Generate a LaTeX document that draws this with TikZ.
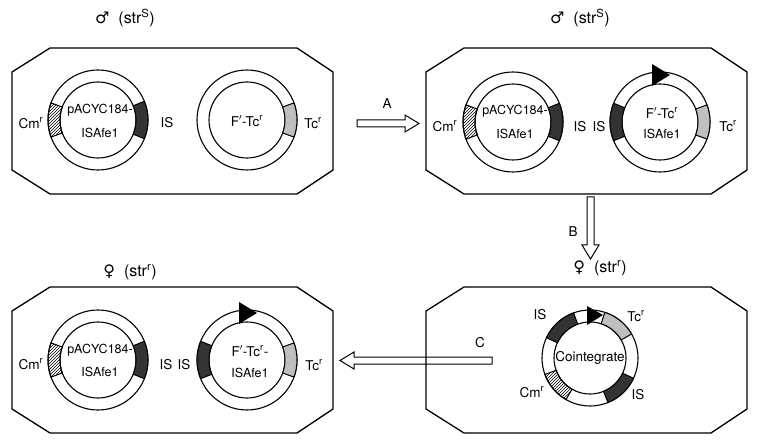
\documentclass[tikz,border=0pt]{standalone}
\usepackage{fontspec}
\setmainfont{TeX Gyre Heros}
\newfontfamily\symf{DejaVu Sans}
\usetikzlibrary{patterns,calc}
\newcommand\ringseg[6]{%
  \path[draw,line width=1pt,#6] (#1,#2) ++(#3:50) arc[start angle=#3,end angle=#4,radius=50]
    -- ($(#1,#2)+(#4:38)$) arc[start angle=#4,end angle=#3,radius=38] -- cycle;}
\newcommand\cell[2]{%
  \draw[line width=1.3pt] (#1+38,#2) -- (#1+285,#2) -- (#1+321,#2+24) -- (#1+321,#2+122) -- (#1+285,#2+146) -- (#1+38,#2+146) -- (#1,#2+122) -- (#1,#2+24) -- cycle;}
\newcommand\ring[2]{\draw[line width=1.1pt] (#1,#2) circle[radius=50] (#1,#2) circle[radius=38];}
\newcommand\tri[2]{\fill (#1-8,#2-58) -- (#1-8,#2-36) -- (#1+10,#2-47) -- cycle;}
\begin{document}
\begin{tikzpicture}[x=1pt,y=-1pt,font=\fontsize{13.5}{15}\selectfont,
  lab/.style={inner sep=0pt},
  pl/.style={inner sep=0pt,font=\fontsize{12.5}{14}\selectfont},
  hd/.style={inner sep=0pt,font=\fontsize{16}{18}\selectfont},
  hatch/.style={pattern=north east lines},
  dk/.style={fill=black!80},
  lt/.style={fill=black!25}]
\useasboundingbox (0,0) rectangle (759,443);
\cell{12}{48}\cell{426}{48}\cell{12}{287}\cell{426}{287}
% top-left
\ring{98}{120}\ring{247}{120}
\ringseg{98}{120}{160}{200}{50}{hatch}
\ringseg{98}{120}{-22}{22}{50}{dk}
\ringseg{247}{120}{-20}{20}{50}{lt}
\node[pl] (p1) at (100,110) {pACYC184-};
\node[pl] (p1b) at (100,133) {ISAfe1};
\node[lab] (cm1) at (31,123) {Cm$^{\mathrm r}$};
\node[lab] (is1) at (167,123) {IS};
\node[lab] (f1) at (247,121) {F$'$-Tc$^{\mathrm r}$};
\node[lab] (tc1) at (313,123) {Tc$^{\mathrm r}$};
\node[hd] (h1) at (125,18) {{\symf ♂}\ \ (str$^{\mathrm S}$)};
% top-right
\ring{513}{122}\ring{660}{122}
\ringseg{513}{122}{160}{200}{50}{hatch}
\ringseg{513}{122}{-22}{22}{50}{dk}
\ringseg{660}{122}{158}{202}{50}{dk}
\ringseg{660}{122}{-20}{20}{50}{lt}
\tri{660}{122}
\node[pl] (p2) at (515,111) {pACYC184-};
\node[pl] (p2b) at (515,134) {ISAfe1};
\node[lab] (cm2) at (445,126) {Cm$^{\mathrm r}$};
\node[lab] (is2) at (580,127) {IS};
\node[lab] (is2c) at (599,127) {IS};
\node[lab] (f2) at (662,113) {F$'$-Tc$^{\mathrm r}$};
\node[pl] (f2b) at (662,134) {ISAfe1};
\node[lab] (tc2) at (728,126) {Tc$^{\mathrm r}$};
\node[hd] (h2) at (580,18) {{\symf ♂}\ \ (str$^{\mathrm S}$)};
% bottom-left
\ring{98}{360}\ring{247}{360}
\ringseg{98}{360}{160}{200}{50}{hatch}
\ringseg{98}{360}{-22}{22}{50}{dk}
\ringseg{247}{360}{158}{202}{50}{dk}
\ringseg{247}{360}{-20}{20}{50}{lt}
\tri{247}{360}
\node[pl] (p3) at (100,350) {pACYC184-};
\node[pl] (p3b) at (100,372) {ISAfe1};
\node[lab] (cm3) at (31,364) {Cm$^{\mathrm r}$};
\node[lab] (is3) at (166,365) {IS};
\node[lab] (is3c) at (184,365) {IS};
\node[lab] (f3) at (250,351) {F$'$-Tc$^{\mathrm r}$-};
\node[pl] (f3b) at (250,373) {ISAfe1};
\node[lab] (tc3) at (314,365) {Tc$^{\mathrm r}$};
\node[hd] (h3) at (130,272) {{\symf ♀}\ \ (str$^{\mathrm r}$)};
% bottom-right cointegrate
\draw[line width=1.1pt] (590,358) circle[radius=48] (590,358) circle[radius=36];
\foreach \a/\b/\s in {-110/-155/dk, -30/-72/lt, 25/68/dk, 120/160/hatch}{
  \path[draw,line width=1pt,\s] (590,358) ++(\a:48) arc[start angle=\a,end angle=\b,radius=48]
    -- ($(590,358)+(\b:36)$) arc[start angle=\b,end angle=\a,radius=36] -- cycle;}
\fill (587,306) -- (587,325) -- (603,315) -- cycle;
\node[lab] (co) at (590,358) {Cointegrate};
\node[lab] (cis1) at (540,315) {IS};
\node[lab] (ctc) at (636,316) {Tc$^{\mathrm r}$};
\node[lab] (ccm) at (532,392) {Cm$^{\mathrm r}$};
\node[lab] (cis2) at (638,395) {IS};
\node[hd] (h4) at (600,268) {{\symf ♀}\ \ (str$^{\mathrm r}$)};
% arrows
\draw[line width=1pt] (357,120) -- (405,120) -- (405,115) -- (419,123.5) -- (405,132) -- (405,127) -- (357,127) -- cycle;
\node[lab] (A) at (387,104) {A};
\draw[line width=1pt] (587,197) -- (587,245) -- (582,245) -- (590.5,259) -- (599,245) -- (594,245) -- (594,197) -- cycle;
\node[lab] (B) at (573,232) {B};
\draw[line width=1pt] (492,357) -- (354,357) -- (354,352) -- (340,360.5) -- (354,369) -- (354,364) -- (492,364) -- cycle;
\node[lab] (C) at (480,343) {C};
\end{tikzpicture}
\end{document}
